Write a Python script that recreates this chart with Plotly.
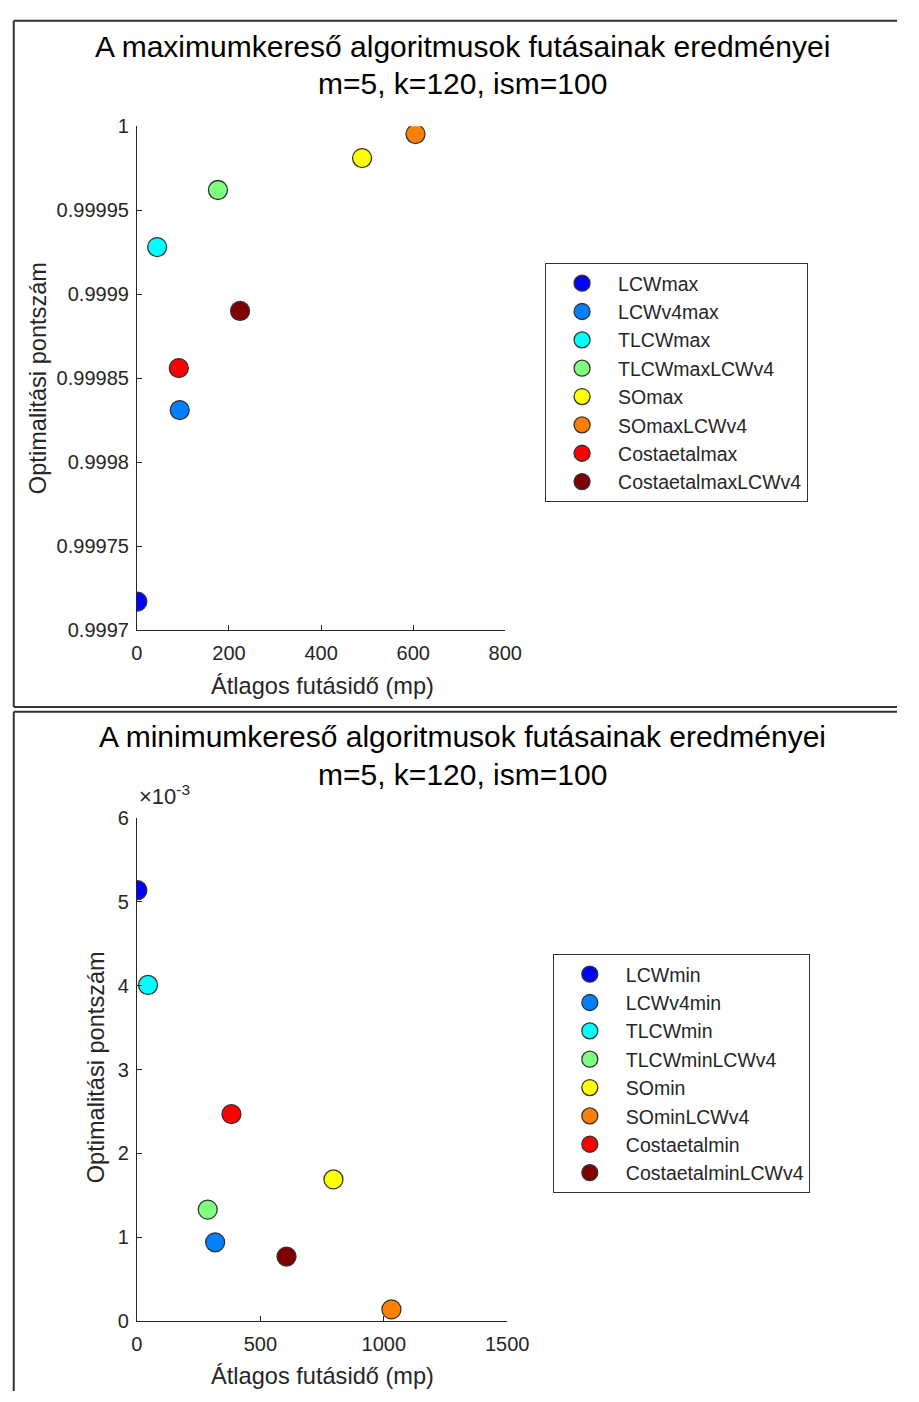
import plotly.graph_objects as go

# ---------------- data ----------------
max_names = ["LCWmax", "LCWv4max", "TLCWmax", "TLCWmaxLCWv4",
             "SOmax", "SOmaxLCWv4", "Costaetalmax", "CostaetalmaxLCWv4"]
max_time = [1, 93, 44, 176, 489, 605, 91, 224]
max_score = [0.999717, 0.999831, 0.999928, 0.999962,
             0.999981, 0.9999953, 0.999856, 0.999890]

min_names = ["LCWmin", "LCWv4min", "TLCWmin", "TLCWminLCWv4",
             "SOmin", "SOminLCWv4", "Costaetalmin", "CostaetalminLCWv4"]
min_time = [2, 317, 45, 287, 796, 1031, 383, 606]
min_score = [0.00514, 0.00094, 0.00401, 0.00133,
             0.00169, 0.00014, 0.00247, 0.00077]

colors = ["#0000FF", "#0080FF", "#00FFFF", "#80FF80",
          "#FFFF00", "#FF8000", "#FF0000", "#800000"]

max_yticks = [0.9997, 0.99975, 0.9998, 0.99985, 0.9999, 0.99995, 1.0]
max_yticktext = ["0.9997", "0.99975", "0.9998", "0.99985", "0.9999", "0.99995", "1"]
max_xticks = [0, 200, 400, 600, 800]
min_yticks = [0, 0.001, 0.002, 0.003, 0.004, 0.005, 0.006]
min_yticktext = ["0", "1", "2", "3", "4", "5", "6"]
min_xticks = [0, 500, 1000, 1500]

title_max = "A maximumkereső algoritmusok futásainak eredményei"
title_min = "A minimumkereső algoritmusok futásainak eredményei"
subtitle = "m=5, k=120, ism=100"
xlabel = "Átlagos futásidő (mp)"
ylabel = "Optimalitási pontszám"

# ---------------- layout helpers ----------------
W, H = 919, 1402
FONT = "Liberation Sans, Arial, Helvetica, sans-serif"
TXT = "#262626"


def px(x):
    return x / W


def py(y):
    return 1 - y / H


fig = go.Figure()

for n, t, s, c in zip(max_names, max_time, max_score, colors):
    fig.add_trace(go.Scatter(
        x=[t], y=[s], mode="markers", name=n, legend="legend",
        xaxis="x", yaxis="y",
        marker=dict(size=19, color=c, line=dict(color="#333333", width=1.3)),
    ))

for n, t, s, c in zip(min_names, min_time, min_score, colors):
    fig.add_trace(go.Scatter(
        x=[t], y=[s], mode="markers", name=n, legend="legend2",
        xaxis="x2", yaxis="y2",
        marker=dict(size=19, color=c, line=dict(color="#333333", width=1.3)),
    ))

axis_common = dict(
    showline=True, linecolor=TXT, linewidth=1, mirror=False,
    showgrid=False, zeroline=False,
    ticks="inside", ticklen=5, tickcolor=TXT, tickwidth=1,
    tickfont=dict(family=FONT, size=20, color=TXT),
)

legend_common = dict(
    xanchor="left", yanchor="top",
    bordercolor="#333333", borderwidth=1, bgcolor="white",
    font=dict(family=FONT, size=19.5, color=TXT),
    itemwidth=62, tracegroupgap=0,
)

fig.update_layout(
    width=W, height=H,
    margin=dict(l=0, r=0, t=0, b=0),
    paper_bgcolor="white", plot_bgcolor="white",
    font=dict(family=FONT, color=TXT),
    xaxis=dict(domain=[px(135), px(515)], range=[0, 800], anchor="y",
               tickvals=max_xticks, ticklabelstandoff=5, **axis_common),
    yaxis=dict(domain=[py(629), py(117)], range=[0.9997, 1.0], anchor="x",
               tickvals=max_yticks, ticktext=max_yticktext,
               ticklabelstandoff=3, **axis_common),
    xaxis2=dict(domain=[px(135), px(517)], range=[0, 1500], anchor="y2",
                tickvals=min_xticks, ticklabelstandoff=5, **axis_common),
    yaxis2=dict(domain=[py(1331), py(820)], range=[0, 0.006], anchor="x2",
                tickvals=min_yticks, ticktext=min_yticktext,
                ticklabelstandoff=3, **axis_common),
    legend=dict(x=px(556), y=py(256), **legend_common),
    legend2=dict(x=px(564), y=py(958), **legend_common),
    showlegend=True,
)


def hline(y, x0=8, x1=919):
    fig.add_shape(type="line", xref="paper", yref="paper",
                  x0=px(x0), x1=px(x1), y0=py(y), y1=py(y),
                  line=dict(color="#333333", width=2), layer="below")


def vline(x, y0, y1):
    fig.add_shape(type="line", xref="paper", yref="paper",
                  x0=px(x), x1=px(x), y0=py(y0), y1=py(y1),
                  line=dict(color="#333333", width=2), layer="below")


# panel frames (right/bottom edges lie outside the picture)
hline(10)
hline(707)
vline(8, 10, 707)
hline(712)
vline(8, 712, 1402)


def ann(text, x, y, size, angle=0, xanchor="center", yanchor="middle", color=TXT):
    fig.add_annotation(text=text, x=x, y=y, xref="paper", yref="paper",
                       showarrow=False, textangle=angle,
                       xanchor=xanchor, yanchor=yanchor,
                       font=dict(family=FONT, size=size, color=color))


# titles
ann(title_max, px(471), py(36), 30, color="black")
ann(subtitle, px(471), py(74), 30, color="black")
ann(title_min, px(471), py(737), 30, color="black")
ann(subtitle, px(471), py(776), 30, color="black")

# axis labels
ann(xlabel, px(326), py(686), 23.6)
ann(ylabel, px(33), py(373), 23.6, angle=-90)
ann(xlabel, px(326), py(1387), 23.6)
ann(ylabel, px(93), py(1073), 23.6, angle=-90)

# exponent label
ann("×10<sup>-3</sup>", px(135), py(813), 22, xanchor="left", yanchor="bottom")

fig.write_html("out.html")
